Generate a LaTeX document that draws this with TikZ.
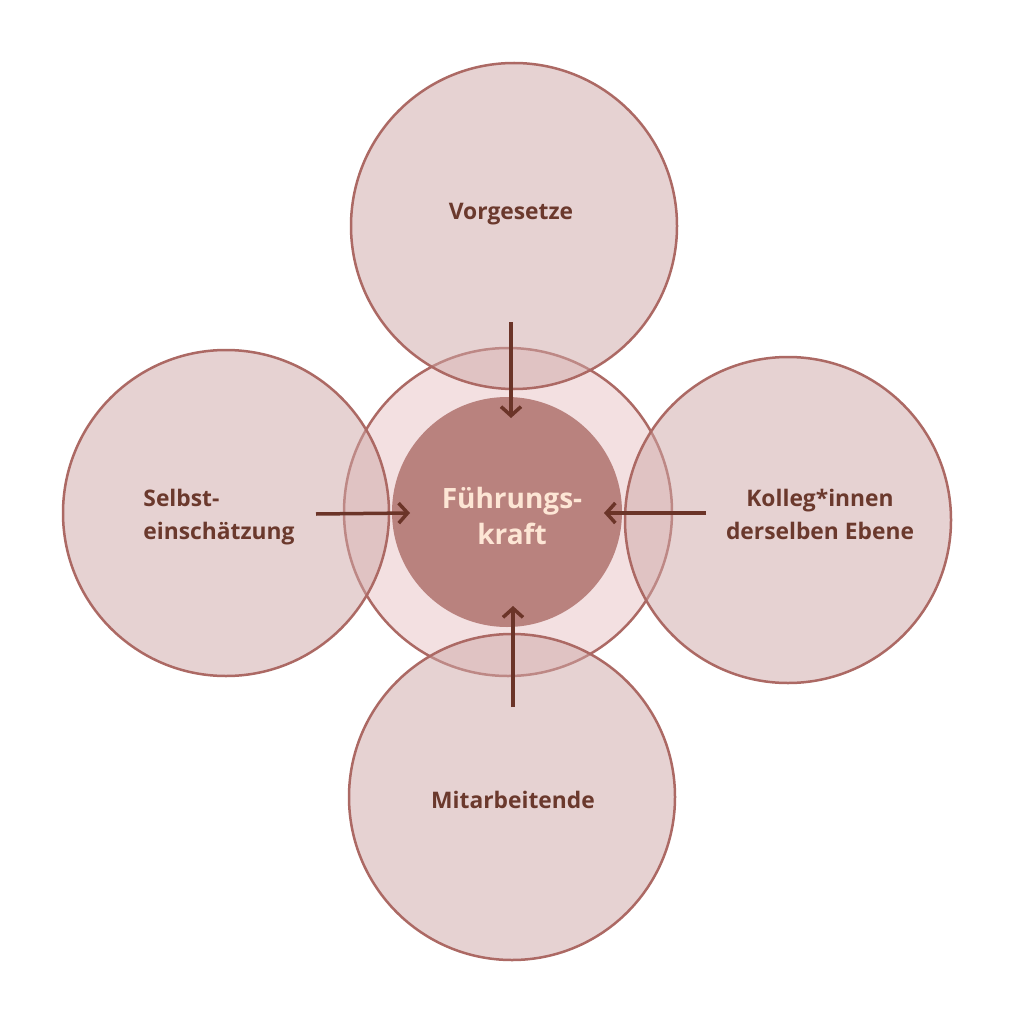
\documentclass[tikz,border=0pt]{standalone}
\usepackage{fontspec}
\setmainfont{Open Sans}
\usetikzlibrary{arrows.meta}

\definecolor{ringline}{HTML}{AC6964}
\definecolor{bubblefill}{HTML}{CFA7A7}
\definecolor{middlefill}{HTML}{F3E0E1}
\definecolor{corefill}{HTML}{B9827E}
\definecolor{arrowbrown}{HTML}{6B3428}
\definecolor{txtbrown}{HTML}{6B392D}
\definecolor{peach}{HTML}{FDE6D5}

\begin{document}
\begin{tikzpicture}[x=1pt,y=-1pt,
  bubble/.style={circle,draw=ringline,line width=2.5pt,fill=bubblefill,fill opacity=0.5,inner sep=0pt,minimum size=326pt},
  lbl/.style={text=txtbrown,font=\bfseries\fontsize{22.8}{33}\selectfont,align=center},
  arr/.style={draw=arrowbrown,line width=3.5pt,-{Straight Barb[length=9pt,width=20pt]}}]

\useasboundingbox[fill=white] (0,0) rectangle (1015,1024);

% middle ring, then the four sources
\node[circle,draw=ringline,line width=2.5pt,fill=middlefill,inner sep=0pt,minimum size=328pt] (mid) at (508,512) {};
\node[bubble] (vor) at (514,226) {};
\node[bubble] (sel) at (226,513) {};
\node[bubble] (kol) at (788,520) {};
\node[bubble] (mit) at (512,797) {};
\node[circle,fill=corefill,inner sep=0pt,minimum size=230pt] (fk) at (507,512) {};

\node[lbl] (tvor) at (511,214) {Vorgesetze};
\node[lbl,align=left] (tsel) at (219,517) {Selbst-\\einschätzung};
\node[lbl] (tkol) at (820,514) {Kolleg*innen\\derselben Ebene};
\node[lbl] (tmit) at (513,800) {Mitarbeitende};
\node[lbl,text=peach,font=\bfseries\fontsize{28}{36}\selectfont] (tfk) at (512,516) {Führungs-\\kraft};

% arrows
\coordinate (vstart) at (511,322); \coordinate (vend) at (511,418);
\coordinate (sstart) at (316,514); \coordinate (send) at (410,513);
\coordinate (kstart) at (706,513); \coordinate (kend) at (604,513);
\coordinate (mstart) at (513,707); \coordinate (mend) at (513,606);
\draw[arr] (vstart)--(vend);
\draw[arr] (sstart)--(send);
\draw[arr] (kstart)--(kend);
\draw[arr] (mstart)--(mend);

\end{tikzpicture}
\end{document}
